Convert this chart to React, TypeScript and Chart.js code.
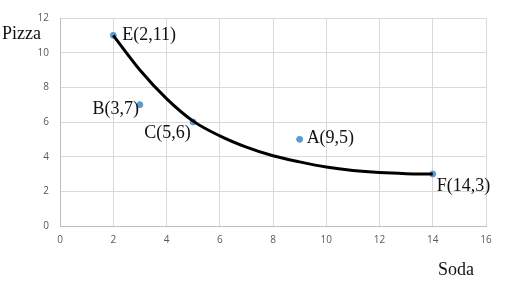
import React, { useEffect, useRef } from "react";
import { Chart, registerables } from "chart.js";

Chart.register(...registerables);

const pointLabels = ["E(2,11)", "B(3,7)", "C(5,6)", "A(9,5)", "F(14,3)"];
const pointX = [2, 3, 5, 9, 14];
const pointY = [11, 7, 6, 5, 3];

const curveX = [2, 3, 4, 5, 6, 7, 8, 9, 10, 11, 12, 13, 14];
const curveY = [11, 9.0, 7.35, 6.05, 5.2, 4.55, 4.05, 3.7, 3.4, 3.2, 3.08, 3.02, 3];

const xTicks = [0, 2, 4, 6, 8, 10, 12, 14, 16];
const yTicks = [0, 2, 4, 6, 8, 10, 12];

// label placement relative to the point (px)
const labelOffsets: Record<string, { dx: number; dy: number; align: CanvasTextAlign }> = {
  "E(2,11)": { dx: 9, dy: 0, align: "left" },
  "B(3,7)": { dx: -1, dy: 5, align: "right" },
  "C(5,6)": { dx: -49, dy: 11, align: "left" },
  "A(9,5)": { dx: 7, dy: -1, align: "left" },
  "F(14,3)": { dx: 4, dy: 12, align: "left" },
};

const labelPlugin = {
  id: "ptLabels",
  afterDatasetsDraw(chart: any) {
    const ctx = chart.ctx;
    const xs = chart.scales.x;
    const ys = chart.scales.y;
    ctx.save();
    ctx.font = '18px "Liberation Serif", "Times New Roman", serif';
    ctx.fillStyle = "#111";
    ctx.textBaseline = "middle";
    pointLabels.forEach((lab, i) => {
      const o = labelOffsets[lab];
      ctx.textAlign = o.align;
      ctx.fillText(lab, xs.getPixelForValue(pointX[i]) + o.dx, ys.getPixelForValue(pointY[i]) + o.dy);
    });
    ctx.textAlign = "left";
    ctx.fillText("Pizza", 2, 34);
    ctx.fillText("Soda", 438, 270);
    ctx.restore();
  },
};

export default function App() {
  const ref = useRef<HTMLCanvasElement>(null);
  useEffect(() => {
    document.body.style.margin = "0";
    const chart = new Chart(ref.current!, {
      type: "scatter",
      data: {
        datasets: [
          {
            type: "line",
            data: curveX.map((x, i) => ({ x, y: curveY[i] })),
            borderColor: "#000",
            borderWidth: 3,
            pointRadius: 0,
            cubicInterpolationMode: "monotone",
            fill: false,
            order: 0,
          } as any,
          {
            data: pointX.map((x, i) => ({ x, y: pointY[i] })),
            backgroundColor: "#5b9bd5",
            borderColor: "#5b9bd5",
            pointRadius: 3,
            order: 1,
          },
        ],
      },
      options: {
        animation: false,
        responsive: false,
        layout: { padding: { left: 0, right: 32, top: 18, bottom: 0 } },
        plugins: { legend: { display: false }, tooltip: { enabled: false } },
        scales: {
          x: {
            type: "linear",
            min: 0,
            max: 16,
            afterBuildTicks: (s: any) => { s.ticks = xTicks.map((v) => ({ value: v })); },
            afterFit: (s: any) => { s.height = 63; },
            grid: { color: "#d9d9d9", drawTicks: false },
            border: { color: "#bfbfbf" },
            ticks: { color: "#595959", font: { family: '"Open Sans", sans-serif', size: 10 }, padding: 8 },
          },
          y: {
            type: "linear",
            min: 0,
            max: 12,
            afterBuildTicks: (s: any) => { s.ticks = yTicks.map((v) => ({ value: v })); },
            afterFit: (s: any) => { s.width = 60; },
            grid: { color: "#d9d9d9", drawTicks: false },
            border: { color: "#bfbfbf" },
            ticks: { color: "#595959", font: { family: '"Open Sans", sans-serif', size: 10 }, padding: 11 },
          },
        },
      },
      plugins: [labelPlugin],
    });
    return () => chart.destroy();
  }, []);
  return (
    <div style={{ position: "absolute", left: 0, top: 0, width: 518, height: 289, background: "#fff" }}>
      <canvas ref={ref} width={518} height={289} />
    </div>
  );
}
